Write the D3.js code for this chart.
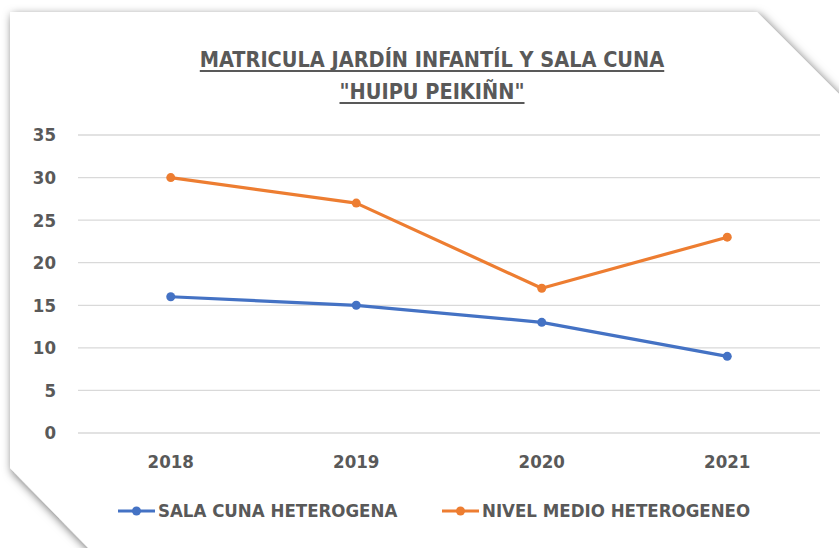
<!DOCTYPE html>
<html><head><meta charset="utf-8">
<script src="https://cdn.jsdelivr.net/npm/d3@7"></script>
<style>body{margin:0;background:#fff;}svg{display:block;}</style>
</head><body>
<script>
const years = ["2018","2019","2020","2021"];
const salaCuna = [16,15,13,9];
const nivelMedio = [30,27,17,23];
const yTicks = [0,5,10,15,20,25,30,35];
const seriesNames = ["SALA CUNA HETEROGENA","NIVEL MEDIO HETEROGENEO"];
const seriesColors = ["#4472C4","#ED7D31"];
const titleLines = ["MATRICULA JARDÍN INFANTÍL Y SALA CUNA","\"HUIPU PEIKIÑN\""];

const W=839,H=548;
const svg=d3.select("body").append("svg").attr("width",W).attr("height",H);
const defs=svg.append("defs");
const f=defs.append("filter").attr("id","sh").attr("x","-10%").attr("y","-10%").attr("width","120%").attr("height","120%");
f.append("feDropShadow").attr("dx",2).attr("dy",3).attr("stdDeviation",5).attr("flood-color","#000").attr("flood-opacity",0.6);

// card
svg.append("path")
  .attr("d","M10,12 L757,12 L845,100 L845,560 L100,560 L10,468 Z")
  .attr("fill","#fff").attr("filter","url(#sh)");

const font="'Liberation Sans Narrow','DejaVu Sans Condensed','Arial Narrow',sans-serif";
const grey="#595959";

const x=d3.scaleBand().domain(years).range([78,820]);
const y=d3.scaleLinear().domain([0,35]).range([433,135]);

const g=svg.append("g");
g.selectAll("line.grid").data(yTicks).join("line")
  .attr("x1",78).attr("x2",820).attr("y1",d=>y(d)).attr("y2",d=>y(d))
  .attr("stroke","#d9d9d9").attr("stroke-width",1.3);

const yAxis=svg.append("g").attr("transform","translate(78,0)")
  .call(d3.axisLeft(y).tickValues(yTicks).tickSize(0).tickPadding(22));
yAxis.select(".domain").remove();
yAxis.selectAll("text").attr("font-family",font).attr("font-weight","bold").attr("font-size",18.5).attr("fill",grey);

const xAxis=svg.append("g").attr("transform","translate(0,433)")
  .call(d3.axisBottom(x).tickSize(0).tickPadding(22));
xAxis.select(".domain").remove();
xAxis.selectAll("text").attr("font-family",font).attr("font-weight","bold").attr("font-size",18.5).attr("fill",grey);

const cx=d=>x(d)+x.bandwidth()/2;
[salaCuna,nivelMedio].forEach((vals,i)=>{
  const pts=years.map((yr,j)=>[cx(yr),y(vals[j])]);
  svg.append("path").attr("d",d3.line()(pts)).attr("fill","none")
    .attr("stroke",seriesColors[i]).attr("stroke-width",3.2).attr("stroke-linejoin","round");
  svg.selectAll(null).data(pts).join("circle")
    .attr("cx",d=>d[0]).attr("cy",d=>d[1]).attr("r",4.5).attr("fill",seriesColors[i]);
});

// title
const t=svg.append("g");
titleLines.forEach((s,i)=>{
  const tx=t.append("text").attr("x",432).attr("y",67+i*32).attr("text-anchor","middle")
    .attr("font-family",font).attr("font-weight","bold").attr("font-size",21.5).attr("fill",grey)
    .text(s);
  const bb=tx.node().getBBox();
  t.append("line").attr("x1",bb.x).attr("x2",bb.x+bb.width).attr("y1",67+i*32+4).attr("y2",67+i*32+4)
    .attr("stroke",grey).attr("stroke-width",2.2);
});

// legend
const legX=[118,442];
seriesNames.forEach((n,i)=>{
  const lg=svg.append("g").attr("transform",`translate(${legX[i]},511)`);
  lg.append("line").attr("x1",0).attr("x2",37).attr("y1",0).attr("y2",0).attr("stroke",seriesColors[i]).attr("stroke-width",3.2);
  lg.append("circle").attr("cx",18.5).attr("cy",0).attr("r",4.5).attr("fill",seriesColors[i]);
  lg.append("text").attr("x",40).attr("y",6).attr("font-family",font).attr("font-weight","bold")
    .attr("font-size",18.5).attr("fill",grey).text(n);
});
</script>
</body></html>
